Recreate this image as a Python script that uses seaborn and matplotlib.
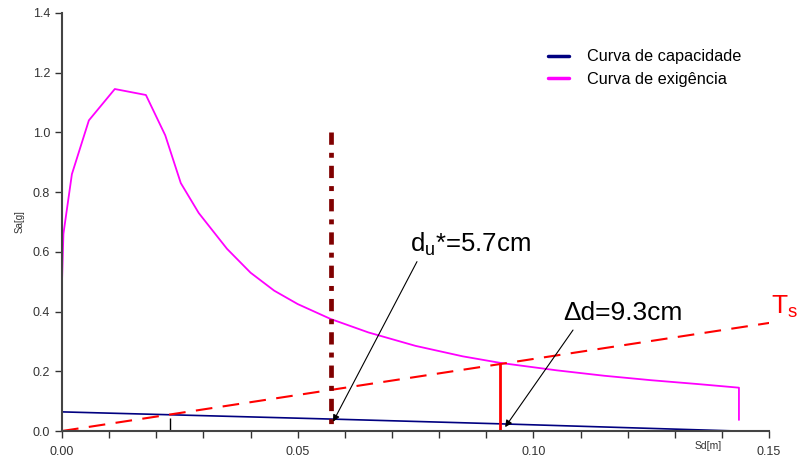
import numpy as np
import pandas as pd
import seaborn as sns
import matplotlib.pyplot as plt
from matplotlib.ticker import MultipleLocator

# demand curve (Curva de exigência)
sd_dem = [0.0, 0.0003, 0.0021, 0.0057, 0.0112, 0.0178, 0.0219, 0.0252, 0.029, 0.035,
          0.040, 0.045, 0.050, 0.057, 0.065, 0.075, 0.085, 0.093, 0.105, 0.115,
          0.125, 0.135, 0.1436, 0.1436]
sa_dem = [0.50, 0.66, 0.86, 1.04, 1.145, 1.125, 0.99, 0.83, 0.73, 0.61,
          0.53, 0.47, 0.425, 0.375, 0.33, 0.285, 0.25, 0.228, 0.203, 0.185,
          0.17, 0.157, 0.145, 0.037]

# capacity curve (Curva de capacidade)
sd_cap = [0.0, 0.057, 0.093, 0.1431]
sa_cap = [0.064, 0.040, 0.024, 0.0]

# period line Ts
sd_ts = [0.0, 0.1505]
sa_ts = [0.0, 0.363]

du = 0.057
du_top = 1.0
dd = 0.093
dd_top = 0.228
elastic = 0.023

sns.set_style("white")
plt.rcParams['font.family'] = ['Liberation Sans', 'DejaVu Sans']

fig = plt.figure(figsize=(7.99, 4.59), dpi=100)
ax = fig.add_axes([0.0776, 0.061, 0.885, 0.911])

cap = pd.DataFrame({"Sd": sd_cap, "Sa": sa_cap})
dem = pd.DataFrame({"Sd": sd_dem, "Sa": sa_dem})
sns.lineplot(data=cap, x="Sd", y="Sa", color="#000080", lw=1.2, sort=False,
             estimator=None, label="Curva de capacidade", ax=ax)
sns.lineplot(data=dem, x="Sd", y="Sa", color="#ff00ff", lw=1.3, sort=False,
             estimator=None, label="Curva de exigência", ax=ax)
ax.plot(sd_ts, sa_ts, color="red", lw=1.5, dashes=(8, 5))

# dash-dot line drawn from the top down so the pattern starts with a dash
ax.vlines(du, du_top, 0, color="#800000", lw=3.4,
          linestyles=(0, (2.6, 1.7, 1.05, 1.7)))
ax.vlines(dd, 0, dd_top, color="red", lw=2)
ax.vlines(elastic, -0.006, 0.045, color="black", lw=1)

# annotations: arrows and texts
ax.annotate("", xy=(0.0575, 0.031), xytext=(0.0753, 0.567),
            arrowprops=dict(arrowstyle="-|>", color="black", lw=0.8,
                            shrinkA=0, shrinkB=0))
ax.annotate("", xy=(0.094, 0.013), xytext=(0.1084, 0.338),
            arrowprops=dict(arrowstyle="-|>", color="black", lw=0.8,
                            shrinkA=0, shrinkB=0))
ax.text(0.0738, 0.58, "d$_\\mathregular{u}$*=5.7cm", fontsize=18.5, color="black",
        ha="left", va="bottom")
ax.text(0.1064, 0.355, "Δd=9.3cm", fontsize=19, color="black",
        ha="left", va="bottom")
ax.text(0.1505, 0.37, "T$_\\mathregular{s}$", color="red", fontsize=19,
        ha="left", va="bottom", clip_on=False)

ax.set_xlim(0, 0.15)
ax.set_ylim(0, 1.4)
ax.xaxis.set_major_locator(MultipleLocator(0.05))
ax.xaxis.set_minor_locator(MultipleLocator(0.01))
ax.yaxis.set_major_locator(MultipleLocator(0.2))
ax.xaxis.set_major_formatter(lambda v, p: f"{v:.2f}")
ax.yaxis.set_major_formatter(lambda v, p: f"{v:.1f}")
ax.tick_params(axis="both", which="both", direction="out", length=5, width=1,
               color="#333333", labelsize=9, labelcolor="#333333",
               bottom=True, left=True)
ax.tick_params(axis="x", pad=6)
for s in ["top", "right"]:
    ax.spines[s].set_visible(False)
for s in ["left", "bottom"]:
    ax.spines[s].set_color("#444444")
    ax.spines[s].set_linewidth(1.5)

ax.set_xlabel("")
ax.set_ylabel("Sa[g]", fontsize=7, color="#333333", labelpad=6)
ax.text(0.137, -0.035, "Sd[m]", fontsize=7.5, color="#333333", ha="center", va="top")

leg = ax.legend(loc="upper left", bbox_to_anchor=(0.667, 0.948), frameon=False,
                fontsize=11.7, handlelength=1.25, handletextpad=1.15,
                labelspacing=0.45)
for t in leg.get_texts():
    t.set_color("black")
for line in leg.get_lines():
    line.set_linewidth(2.5)

fig.savefig("out.png", dpi=100)
